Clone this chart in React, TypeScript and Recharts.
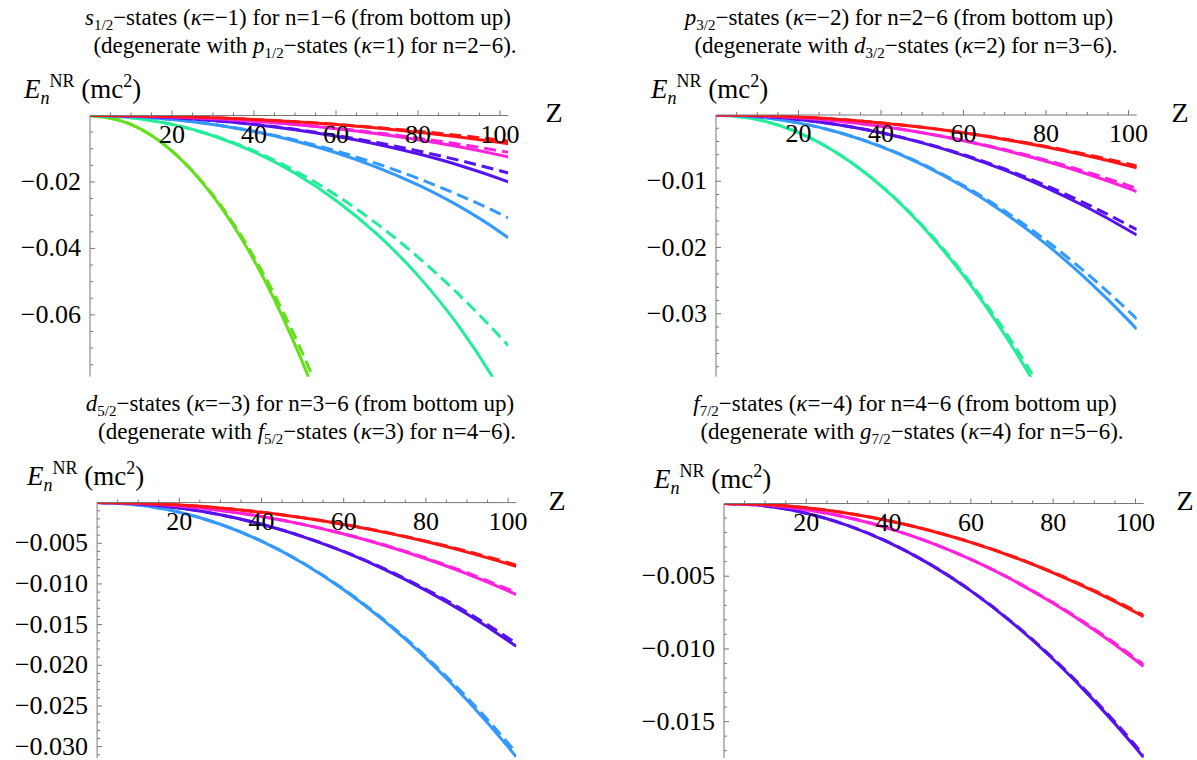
import React from "react";
import { LineChart, Line, XAxis, YAxis } from "recharts";

const W = 1197;
const H = 760;

const zGrid = [0, 10, 20, 30, 40, 50, 60, 70, 80, 90, 100, 102];
const zGridN1 = [0, 10, 20, 30, 40, 45, 50, 55, 60];

// dashed curves (same in every panel), by n
const dashN1 = [0, -0.002663, -0.01065, -0.02396, -0.0426, -0.05391, -0.06656, -0.08054, -0.09585];
const dashN2 = [0, -0.000666, -0.002663, -0.005991, -0.01065, -0.01664, -0.02396, -0.03262, -0.0426, -0.05392, -0.06656, -0.06925];
const dashN3 = [0, -0.000296, -0.001183, -0.002663, -0.004733, -0.007396, -0.01065, -0.0145, -0.01893, -0.02396, -0.02958, -0.03078];
const dashN4 = [0, -0.000166, -0.000666, -0.001498, -0.002663, -0.00416, -0.005991, -0.008154, -0.01065, -0.01348, -0.01664, -0.01731];
const dashN5 = [0, -0.000107, -0.000426, -0.000959, -0.001704, -0.002663, -0.003834, -0.005219, -0.006816, -0.008627, -0.01065, -0.01108];
const dashN6 = [0, -0.000074, -0.000296, -0.000666, -0.001183, -0.001849, -0.002663, -0.003624, -0.004733, -0.005991, -0.007396, -0.007695];

// s1/2 states, n = 1..6
const s12N1 = [0, -0.002666, -0.01071, -0.02426, -0.04355, -0.05545, -0.06894, -0.08408, -0.10094];
const s12N2 = [0, -0.000667, -0.00268, -0.006083, -0.010947, -0.017386, -0.025563, -0.035715, -0.048185, -0.06349, -0.08247, -0.08681];
const s12N3 = [0, -0.000296, -0.00119, -0.002695, -0.004838, -0.00766, -0.011213, -0.015582, -0.02088, -0.027275, -0.035036, -0.036787];
const s12N4 = [0, -0.0001666, -0.0006685, -0.0015126, -0.0027104, -0.0042799, -0.006246, -0.008644, -0.011525, -0.01496, -0.019062, -0.019976];
const s12N5 = [0, -0.0001066, -0.0004276, -0.0009665, -0.0017297, -0.0027264, -0.0039698, -0.0054791, -0.0072793, -0.0094076, -0.0119204, -0.0124761];
const s12N6 = [0, -0.000074, -0.0002968, -0.0006704, -0.0011986, -0.0018869, -0.002743, -0.0037781, -0.0050071, -0.0064506, -0.0081415, -0.0085131];

// p3/2 states, n = 2..6
const p32N2 = [0, -0.000666, -0.002666, -0.006009, -0.010708, -0.016782, -0.024257, -0.033166, -0.043549, -0.055454, -0.068941, -0.071832];
const p32N3 = [0, -0.000296, -0.0011855, -0.0026732, -0.0047675, -0.0074798, -0.0108246, -0.0148228, -0.019497, -0.024878, -0.031, -0.032316];
const p32N4 = [0, -0.0001665, -0.0006667, -0.0015033, -0.0026804, -0.0042043, -0.0060826, -0.0083264, -0.010947, -0.013961, -0.017386, -0.018123];
const p32N5 = [0, -0.0001066, -0.0004266, -0.0009618, -0.0017143, -0.0026878, -0.0038867, -0.0053173, -0.0069861, -0.0089022, -0.0110762, -0.0115425];
const p32N6 = [0, -0.000074, -0.0002958, -0.0006676, -0.0011898, -0.0018647, -0.0026951, -0.003685, -0.0048387, -0.0061611, -0.0076592, -0.0079804];

// d5/2 states, n = 3..6
const d52N3 = [0, -0.000296, -0.001184, -0.002666, -0.004745, -0.007424, -0.010707, -0.014603, -0.019117, -0.024257, -0.030035, -0.031268];
const d52N4 = [0, -0.0001665, -0.0006661, -0.0015003, -0.0026708, -0.0041807, -0.006033, -0.0082327, -0.0107854, -0.0136963, -0.016975, -0.017675];
const d52N5 = [0, -0.0001065, -0.0004263, -0.0009602, -0.0017094, -0.0026757, -0.0038613, -0.0052696, -0.0069033, -0.0087669, -0.0108648, -0.011313];
const d52N6 = [0, -0.000074, -0.0002961, -0.0006667, -0.0011869, -0.0018576, -0.0026804, -0.0036574, -0.0047907, -0.0060826, -0.0075369, -0.0078477];

// f7/2 states, n = 4..6
const f72N4 = [0, -0.000167, -0.000666, -0.001499, -0.002666, -0.004169, -0.006009, -0.008188, -0.010708, -0.013571, -0.016782, -0.017466];
const f72N5 = [0, -0.0001065, -0.0004262, -0.0009594, -0.001707, -0.0026697, -0.0038487, -0.005246, -0.0068632, -0.0087021, -0.0107656, -0.0112053];
const f72N6 = [0, -0.000074, -0.000296, -0.0006663, -0.0011855, -0.0018541, -0.0026732, -0.0036439, -0.0047675, -0.0060453, -0.0074798, -0.0077851];

const xMajor = [20, 40, 60, 80, 100];

const colors: Record<number, string> = {
  1: "#62e01c",
  2: "#22ee99",
  3: "#3399ff",
  4: "#5511ee",
  5: "#ff22dd",
  6: "#ff1515",
};

const steps = (step: number, count: number, sign = 1) =>
  Array.from({ length: count }, (_, i) => sign * +((i + 1) * step).toFixed(6));

const pts = (zs: number[], es: number[]) => zs.map((z, i) => ({ z, e: es[i] }));

const FONT = "'Liberation Serif', 'Times New Roman', serif";
const AXIS = "#777";
const MINUS = "\u2212";

const panels = [
  {
    box: { left: 90, right: 508.2, top: 115.5, bottom: 376.7 },
    yMin: -0.0786,
    yMajor: [-0.02, -0.04, -0.06],
    yTicks: steps(0.005, 15, -1),
    decimals: 2,
    curves: [
      { n: 1, z: zGridN1, solid: s12N1, dashed: dashN1, dz: zGridN1 },
      { n: 2, z: zGrid, solid: s12N2, dashed: dashN2, dz: zGrid },
      { n: 3, z: zGrid, solid: s12N3, dashed: dashN3, dz: zGrid },
      { n: 4, z: zGrid, solid: s12N4, dashed: dashN4, dz: zGrid },
      { n: 5, z: zGrid, solid: s12N5, dashed: dashN5, dz: zGrid },
      { n: 6, z: zGrid, solid: s12N6, dashed: dashN6, dz: zGrid },
    ],
  },
  {
    box: { left: 716, right: 1136.75, top: 115, bottom: 376.7 },
    yMin: -0.0395,
    yMajor: [-0.01, -0.02, -0.03],
    yTicks: steps(0.002, 19, -1),
    decimals: 2,
    curves: [
      { n: 2, z: zGrid, solid: p32N2, dashed: dashN2, dz: zGrid },
      { n: 3, z: zGrid, solid: p32N3, dashed: dashN3, dz: zGrid },
      { n: 4, z: zGrid, solid: p32N4, dashed: dashN4, dz: zGrid },
      { n: 5, z: zGrid, solid: p32N5, dashed: dashN5, dz: zGrid },
      { n: 6, z: zGrid, solid: p32N6, dashed: dashN6, dz: zGrid },
    ],
  },
  {
    box: { left: 97.1, right: 516.3, top: 502.6, bottom: 758 },
    yMin: -0.0314,
    yMajor: [-0.005, -0.01, -0.015, -0.02, -0.025, -0.03],
    yTicks: steps(0.001, 31, -1),
    decimals: 3,
    curves: [
      { n: 3, z: zGrid, solid: d52N3, dashed: dashN3, dz: zGrid },
      { n: 4, z: zGrid, solid: d52N4, dashed: dashN4, dz: zGrid },
      { n: 5, z: zGrid, solid: d52N5, dashed: dashN5, dz: zGrid },
      { n: 6, z: zGrid, solid: d52N6, dashed: dashN6, dz: zGrid },
    ],
  },
  {
    box: { left: 724, right: 1143.7, top: 503.5, bottom: 758 },
    yMin: -0.0175,
    yMajor: [-0.005, -0.01, -0.015],
    yTicks: steps(0.001, 17, -1),
    decimals: 3,
    curves: [
      { n: 4, z: zGrid, solid: f72N4, dashed: dashN4, dz: zGrid },
      { n: 5, z: zGrid, solid: f72N5, dashed: dashN5, dz: zGrid },
      { n: 6, z: zGrid, solid: f72N6, dashed: dashN6, dz: zGrid },
    ],
  },
];

const isIn = (v: number, list: number[]) => list.some((m) => Math.abs(m - v) < 1e-9);

function XTick(props: any) {
  const { x, y, payload } = props;
  const major = isIn(payload.value, xMajor);
  return (
    <g>
      <line x1={x} x2={x} y1={y} y2={y - (major ? 5 : 3)} stroke={AXIS} strokeWidth={1} />
      {major && (
        <text x={x} y={y + 27} textAnchor="middle" fontFamily={FONT} fontSize={26} fill="#000">
          {payload.value}
        </text>
      )}
    </g>
  );
}

function YTick(props: any) {
  const { x, y, payload, majors, decimals } = props;
  const major = isIn(payload.value, majors);
  return (
    <g>
      <line x1={x} x2={x + (major ? 5 : 3)} y1={y} y2={y} stroke={AXIS} strokeWidth={1} />
      {major && (
        <text x={x - 9} y={y + 8} textAnchor="end" fontFamily={FONT} fontSize={26} fill="#000">
          {MINUS + Math.abs(payload.value).toFixed(decimals)}
        </text>
      )}
    </g>
  );
}

function Panel({ p }: { p: (typeof panels)[number] }) {
  const { box } = p;
  return (
    <div style={{ position: "absolute", left: 0, top: 0 }}>
      <LineChart
        width={W}
        height={H}
        margin={{ left: box.left - 1, right: W - box.right, top: box.top - 1, bottom: H - box.bottom }}
      >
        <XAxis
          type="number"
          dataKey="z"
          domain={[0, 102]}
          orientation="top"
          height={1}
          ticks={steps(5, 20)}
          interval={0}
          tickSize={0}
          tickMargin={0}
          tickLine={false}
          axisLine={{ stroke: AXIS }}
          tick={(t: any) => <XTick {...t} />}
          allowDataOverflow
        />
        <YAxis
          type="number"
          domain={[p.yMin, 0]}
          width={1}
          ticks={p.yTicks}
          interval={0}
          tickSize={0}
          tickMargin={0}
          tickLine={false}
          axisLine={{ stroke: AXIS }}
          tick={(t: any) => <YTick {...t} majors={p.yMajor} decimals={p.decimals} />}
          allowDataOverflow
        />
        {p.curves.map((c) => (
          <Line
            key={"s" + c.n}
            data={pts(c.z, c.solid)}
            dataKey="e"
            type="monotone"
            stroke={colors[c.n]}
            strokeWidth={3}
            dot={false}
            isAnimationActive={false}
          />
        ))}
        {p.curves.map((c) => (
          <Line
            key={"d" + c.n}
            data={pts(c.dz, c.dashed)}
            dataKey="e"
            type="monotone"
            stroke={colors[c.n]}
            strokeWidth={3}
            strokeDasharray="12 6"
            dot={false}
            isAnimationActive={false}
          />
        ))}
      </LineChart>
    </div>
  );
}

const SUB = 15;

function Title({ x, y, sym, sub, k, nr, dsym, dsub, dk, dn }: any) {
  return (
    <g fontFamily={FONT} fontSize={23} fill="#000">
      <text x={x} y={y} textAnchor="middle">
        <tspan fontStyle="italic">{sym}</tspan>
        <tspan fontSize={SUB} dy={5}>{sub}</tspan>
        <tspan dy={-5}>{MINUS + "states ("}</tspan>
        <tspan fontStyle="italic">κ</tspan>
        <tspan>{"=" + MINUS + k + ") for n=" + nr + " (from bottom up)"}</tspan>
      </text>
      <text x={x + 7} y={y + 28} textAnchor="middle">
        <tspan>{"(degenerate with "}</tspan>
        <tspan fontStyle="italic">{dsym}</tspan>
        <tspan fontSize={SUB} dy={5}>{dsub}</tspan>
        <tspan dy={-5}>{MINUS + "states ("}</tspan>
        <tspan fontStyle="italic">κ</tspan>
        <tspan>{"=" + dk + ") for n=" + dn + ")."}</tspan>
      </text>
    </g>
  );
}

function YLabel({ x, y }: { x: number; y: number }) {
  return (
    <text x={x} y={y} fontFamily={FONT} fontSize={27} fill="#000">
      <tspan fontStyle="italic">E</tspan>
      <tspan fontStyle="italic" fontSize={18} dy={6}>n</tspan>
      <tspan fontSize={18} dy={-17}>NR</tspan>
      <tspan dy={11}>{" (mc"}</tspan>
      <tspan fontSize={18} dy={-11}>2</tspan>
      <tspan dy={11}>)</tspan>
    </text>
  );
}

function ZLabel({ x, y }: { x: number; y: number }) {
  return (
    <text x={x} y={y} fontFamily={FONT} fontSize={28} fill="#000" textAnchor="middle">
      Z
    </text>
  );
}

export default function App() {
  return (
    <div
      style={{
        position: "absolute",
        left: 0,
        top: 0,
        width: W,
        height: H,
        background: "#fff",
        overflow: "hidden",
      }}
    >
      {panels.map((p, i) => (
        <Panel key={i} p={p} />
      ))}
      <svg width={W} height={H} style={{ position: "absolute", left: 0, top: 0, pointerEvents: "none" }}>
        <Title x={298} y={25} sym="s" sub="1/2" k={1} nr={"1" + MINUS + "6"} dsym="p" dsub="1/2" dk={1} dn={"2" + MINUS + "6"} />
        <Title x={899} y={25} sym="p" sub="3/2" k={2} nr={"2" + MINUS + "6"} dsym="d" dsub="3/2" dk={2} dn={"3" + MINUS + "6"} />
        <Title x={300} y={411} sym="d" sub="5/2" k={3} nr={"3" + MINUS + "6"} dsym="f" dsub="5/2" dk={3} dn={"4" + MINUS + "6"} />
        <Title x={905} y={411} sym="f" sub="7/2" k={4} nr={"4" + MINUS + "6"} dsym="g" dsub="7/2" dk={4} dn={"5" + MINUS + "6"} />
        <YLabel x={24} y={98} />
        <YLabel x={651} y={98} />
        <YLabel x={27} y={485} />
        <YLabel x={654} y={488} />
        <ZLabel x={554} y={122} />
        <ZLabel x={1180} y={122} />
        <ZLabel x={557} y={510} />
        <ZLabel x={1185} y={510} />
      </svg>
    </div>
  );
}
